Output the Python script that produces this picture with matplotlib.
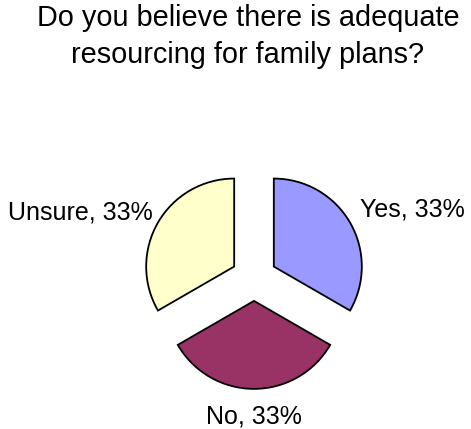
import numpy as np
import matplotlib
matplotlib.use("Agg")
import matplotlib.pyplot as plt

# Survey answers
categories = ["Yes", "No", "Unsure"]
responses = [1, 1, 1]
slice_colors = ["#9999FF", "#993366", "#FFFFCC"]

title_lines = ["Do you believe there is adequate", "resourcing for family plans?"]

W, H = 471, 429
plt.rcParams["font.family"] = ["Liberation Sans", "DejaVu Sans"]

fig = plt.figure(figsize=(W / 100, H / 100), dpi=100)
ax = fig.add_axes([0, 0, 1, 1])

radius = 88
center = (254, H - 278)
explode_frac = 0.26  # slice offset as a share of the radius

wedges, _ = ax.pie(
    responses,
    colors=slice_colors,
    startangle=90,
    counterclock=False,
    radius=radius,
    center=center,
    explode=[explode_frac * radius] * len(responses),
    wedgeprops=dict(edgecolor="black", linewidth=1.3),
    frame=True,
)

ax.set_xlim(0, W)
ax.set_ylim(0, H)
ax.set_aspect("equal")
ax.axis("off")

# Category labels with percentage shares, placed outside each wedge
total = sum(responses)
label_dist = {"Yes": 1.13, "No": 1.39, "Unsure": 1.07}
for wedge, cat, val in zip(wedges, categories, responses):
    mid = np.deg2rad((wedge.theta1 + wedge.theta2) / 2)
    cx, cy = wedge.center
    k = label_dist[cat] * wedge.r
    tx, ty = cx + k * np.cos(mid), cy + k * np.sin(mid)
    c = np.cos(mid)
    ha = "center" if abs(c) < 0.1 else ("left" if c > 0 else "right")
    pct = round(val / total * 100)
    ax.text(tx, ty, f"{cat}, {pct}%", ha=ha, va="baseline",
            fontsize=18, color="black")

# Two-line chart title
for line, base in zip(title_lines, [26, 63]):
    fig.text(248 / W, 1 - base / H, line, ha="center", va="baseline",
             fontsize=20.8, color="black")

fig.savefig("out.png", dpi=100, facecolor="white")
